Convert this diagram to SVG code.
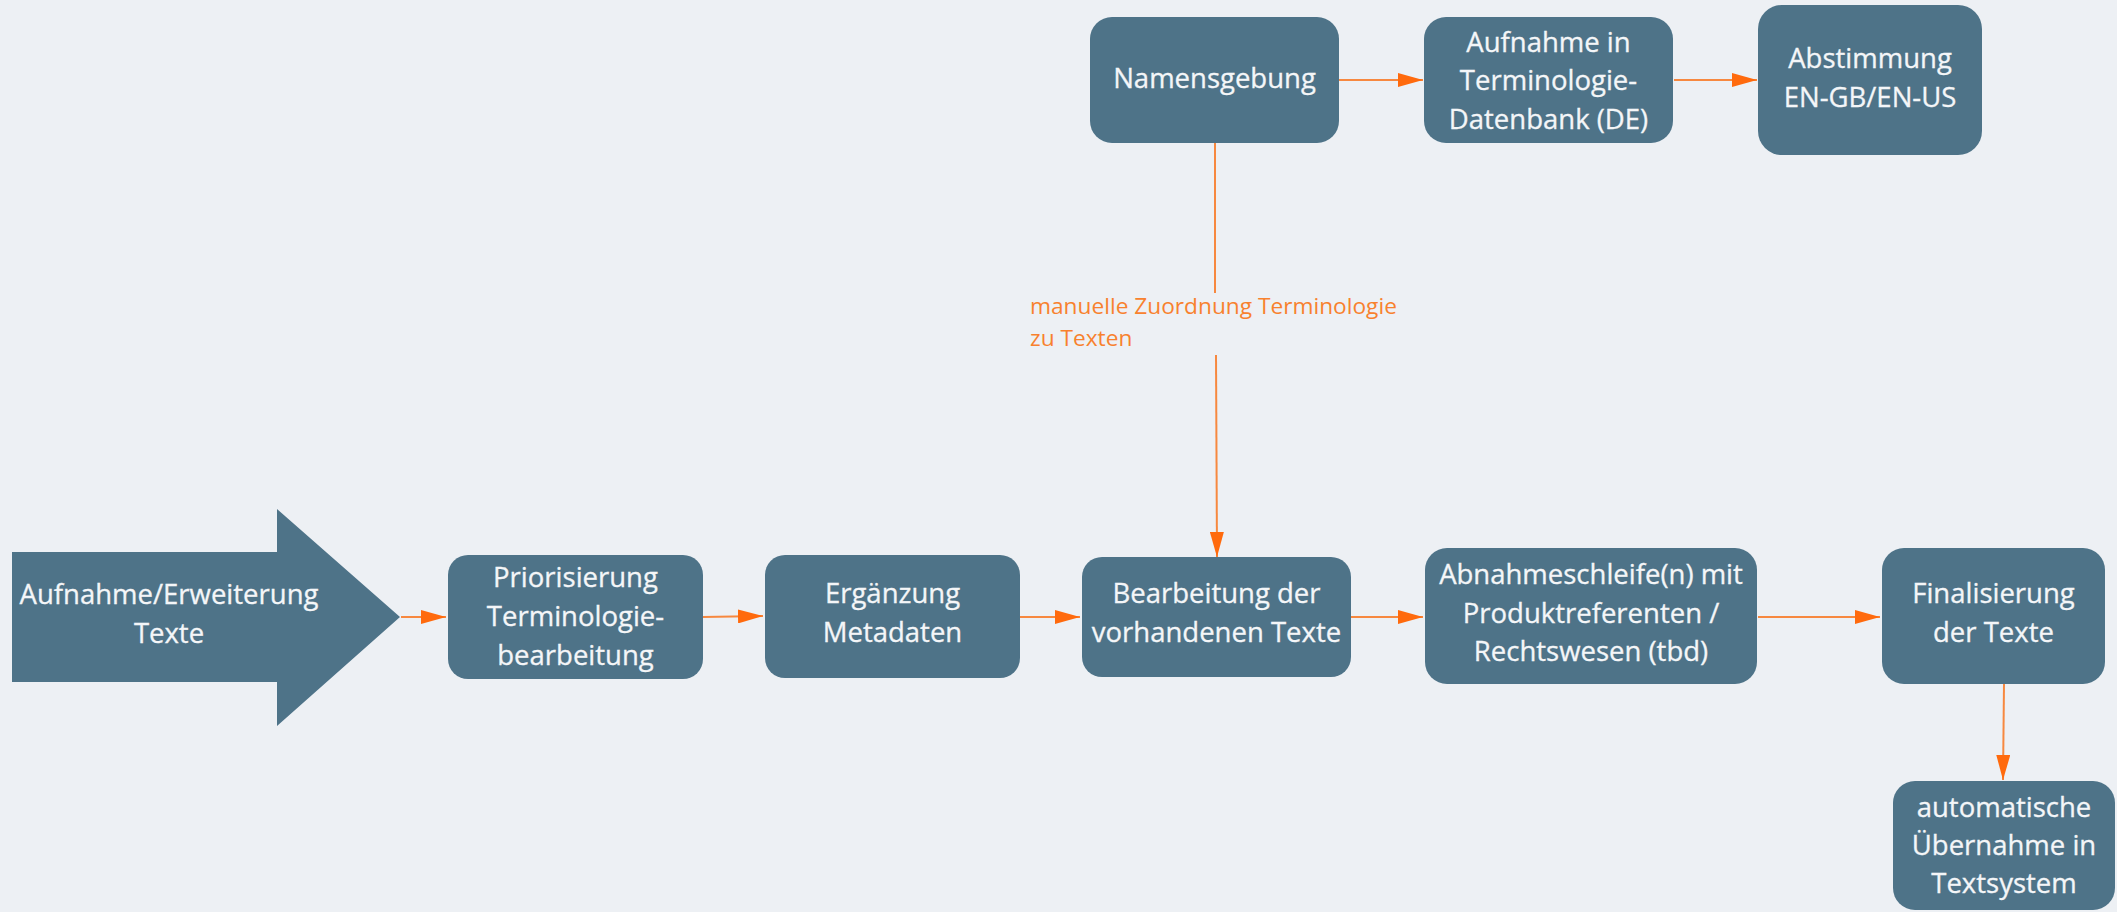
<svg xmlns="http://www.w3.org/2000/svg" width="2117" height="912" viewBox="0 0 2117 912">
<defs>
<marker id="ah" markerUnits="userSpaceOnUse" markerWidth="26" markerHeight="14" refX="25" refY="7" orient="auto">
<path d="M0,0 L25,7 L0,14 z" fill="#ff6a0d"/>
</marker>
<style>
.bg{fill:#edf0f4}
.node{fill:#4e7388}
.t{font-family:"Open Sans","Noto Sans","DejaVu Sans",sans-serif;font-size:27.5px;fill:#f4f6f8;text-anchor:middle;stroke:#f4f6f8;stroke-width:0.3px}
.lbl{font-family:"Open Sans","Noto Sans","DejaVu Sans",sans-serif;font-size:22.7px;fill:#f8812e}
.c{fill:none;stroke:#f7883f;stroke-width:2}
</style>
</defs>
<rect class="bg" x="0" y="0" width="2117" height="912"/>

<g id="connectors">
<path class="c" d="M401,617 L446,617" marker-end="url(#ah)"/>
<path class="c" d="M703,617 L763,616" marker-end="url(#ah)"/>
<path class="c" d="M1020,617 L1080,617" marker-end="url(#ah)"/>
<path class="c" d="M1351,617 L1423,617" marker-end="url(#ah)"/>
<path class="c" d="M1758,617 L1880,617" marker-end="url(#ah)"/>
<path class="c" d="M2004,684 L2003,780" marker-end="url(#ah)"/>
<path class="c" d="M1339,80 L1423,80" marker-end="url(#ah)"/>
<path class="c" d="M1674,80 L1757,80" marker-end="url(#ah)"/>
<path class="c" d="M1215,143 L1215,293"/>
<path class="c" d="M1216,355 L1217,557" marker-end="url(#ah)"/>
<text class="lbl"><tspan x="1030" y="314">manuelle Zuordnung Terminologie</tspan><tspan x="1030" y="346">zu Texten</tspan></text>
</g>

<g id="start">
<path class="node" d="M12,552 L277,552 L277,509 L400,617 L277,726 L277,682 L12,682 z"/>
<text class="t"><tspan x="169" y="604">Aufnahme/Erweiterung</tspan><tspan x="169" y="643">Texte</tspan></text>
</g>

<g id="priorisierung">
<rect class="node" x="448" y="555" width="255" height="124" rx="20"/>
<text class="t"><tspan x="575.5" y="587">Priorisierung</tspan><tspan x="575.5" y="626">Terminologie-</tspan><tspan x="575.5" y="665">bearbeitung</tspan></text>
</g>

<g id="ergaenzung">
<rect class="node" x="765" y="555" width="255" height="123" rx="20"/>
<text class="t"><tspan x="892.5" y="603">Ergänzung</tspan><tspan x="892.5" y="642">Metadaten</tspan></text>
</g>

<g id="bearbeitung">
<rect class="node" x="1082" y="557" width="269" height="120" rx="20"/>
<text class="t"><tspan x="1216.5" y="603">Bearbeitung der</tspan><tspan x="1216.5" y="642">vorhandenen Texte</tspan></text>
</g>

<g id="abnahme">
<rect class="node" x="1425" y="548" width="332" height="136" rx="22"/>
<text class="t"><tspan x="1591" y="584">Abnahmeschleife(n) mit</tspan><tspan x="1591" y="623">Produktreferenten /</tspan><tspan x="1591" y="661">Rechtswesen (tbd)</tspan></text>
</g>

<g id="finalisierung">
<rect class="node" x="1882" y="548" width="223" height="136" rx="22"/>
<text class="t"><tspan x="1993.5" y="603">Finalisierung</tspan><tspan x="1993.5" y="642">der Texte</tspan></text>
</g>

<g id="uebernahme">
<rect class="node" x="1893" y="781" width="222" height="129" rx="22"/>
<text class="t"><tspan x="2004" y="817">automatische</tspan><tspan x="2004" y="855">Übernahme in</tspan><tspan x="2004" y="893">Textsystem</tspan></text>
</g>

<g id="namensgebung">
<rect class="node" x="1090" y="17" width="249" height="126" rx="22"/>
<text class="t"><tspan x="1214.5" y="88">Namensgebung</tspan></text>
</g>

<g id="aufnahme-db">
<rect class="node" x="1424" y="17" width="249" height="126" rx="22"/>
<text class="t"><tspan x="1548.5" y="52">Aufnahme in</tspan><tspan x="1548.5" y="90">Terminologie-</tspan><tspan x="1548.5" y="129">Datenbank (DE)</tspan></text>
</g>

<g id="abstimmung">
<rect class="node" x="1758" y="5" width="224" height="150" rx="24"/>
<text class="t"><tspan x="1870" y="68">Abstimmung</tspan><tspan x="1870" y="107">EN-GB/EN-US</tspan></text>
</g>
</svg>
